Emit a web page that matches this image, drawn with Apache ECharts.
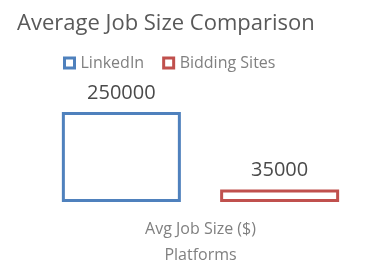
<!DOCTYPE html>
<html><head><meta charset="utf-8">
<script src="https://cdn.jsdelivr.net/npm/echarts@6/dist/echarts.min.js"></script>
<style>html,body{margin:0;padding:0;background:#fff}#c{width:381px;height:275px}</style>
</head><body><div id="c"></div>
<script>
const categories = ['Avg Job Size ($)'];
const seriesNames = ['LinkedIn', 'Bidding Sites'];
const linkedinValues = [250000];
const biddingValues = [35000];
const colors = ['#4f81bd', '#c0504d'];
const font = 'Open Sans';

const chart = echarts.init(document.getElementById('c'));
const mk = (name, data, color) => ({
  name, type: 'bar', data, barWidth: 119, barGap: '33%',
  itemStyle: { color: 'rgba(0,0,0,0)', borderColor: color, borderWidth: 3 },
  label: { show: true, position: 'top', distance: 9, color: '#4a4a4a', fontSize: 20, fontFamily: font },
  emphasis: { disabled: true }
});
chart.setOption({
  animation: false,
  title: { text: 'Average Job Size Comparison', left: 12, top: 8,
    textStyle: { fontFamily: font, fontSize: 22, fontWeight: 'normal', color: '#595959' } },
  legend: { top: 50, left: 58, itemWidth: 10, itemHeight: 10, itemGap: 18,
    data: seriesNames.map((n, i) => ({ name: n, icon: 'rect', itemStyle: { color: 'rgba(0,0,0,0)', borderColor: colors[i], borderWidth: 3 } })),
    textStyle: { fontFamily: font, fontSize: 16, color: '#808080', padding: [0, 0, 0, 1] } },
  grid: { left: 62, right: 42, top: 112, bottom: 73, containLabel: false },
  xAxis: { type: 'category', data: categories, name: 'Platforms', nameLocation: 'middle', nameGap: 45,
    nameTextStyle: { fontFamily: font, fontSize: 16, color: '#808080' },
    axisLine: { show: false }, axisTick: { show: false },
    axisLabel: { fontFamily: font, fontSize: 16, color: '#808080', margin: 19 } },
  yAxis: { type: 'value', min: 0, max: 250000, show: false, splitLine: { show: false } },
  series: [mk(seriesNames[0], linkedinValues, colors[0]), mk(seriesNames[1], biddingValues, colors[1])]
});
</script></body></html>
